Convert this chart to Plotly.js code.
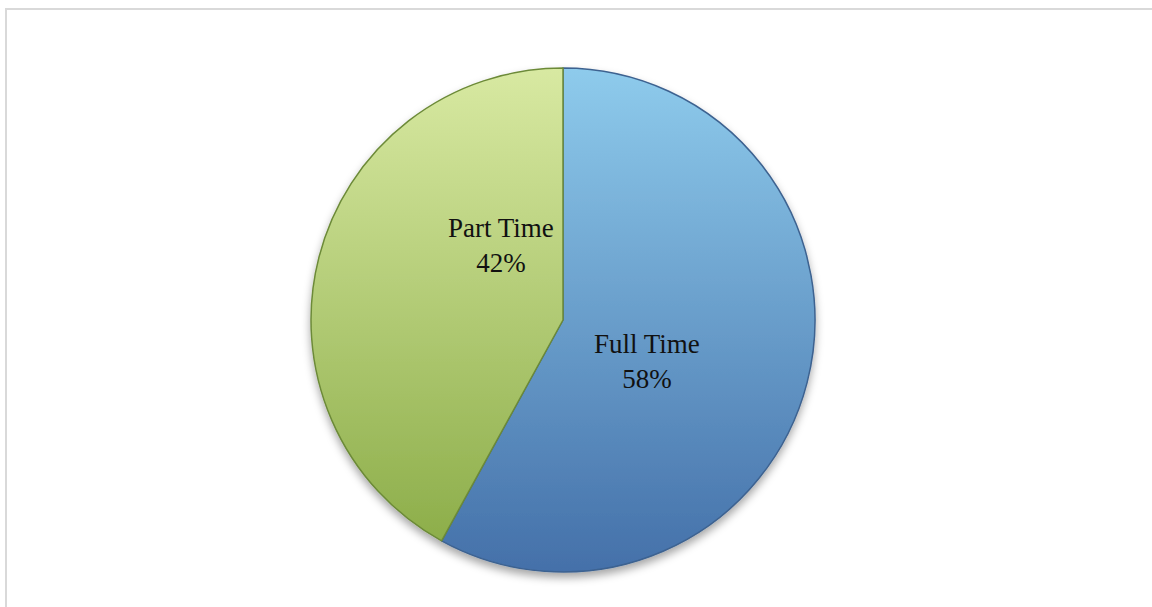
<!DOCTYPE html>
<html>
<head>
<meta charset="utf-8">
<script src="https://cdn.plot.ly/plotly-3.0.1.min.js"></script>
<style>
html,body{margin:0;padding:0;background:#fff;}
#frame{position:absolute;left:5px;top:8px;width:1160px;height:620px;border-top:2px solid #d9d9d9;border-left:2px solid #d9d9d9;}
#chart{position:absolute;left:0;top:0;width:1152px;height:607px;}
</style>
</head>
<body>
<div id="frame"></div>
<div id="chart"></div>
<script>
var categories = ["Full Time", "Part Time"];
var shares = [58, 42];
var gradTop = ["#8ecbec", "#d8e9a2"];
var gradBottom = ["#4470a9", "#8dae4a"];
var edgeColors = ["#3d6290", "#6c8a38"];
// label anchor positions (paper fractions)
var labelX = [647 / 1152, 501 / 1152];
var labelY = [1 - 361 / 607, 1 - 246 / 607];

var trace = {
  type: "pie",
  labels: categories,
  values: shares,
  textinfo: "none",
  sort: false,
  direction: "clockwise",
  rotation: 0,
  marker: {colors: ["#6a9ccb", "#b2cc77"], line: {color: edgeColors, width: 1.5}},
  domain: {x: [(563-252)/1152, (563+252)/1152], y: [(607-572)/607, (607-68)/607]},
  hoverinfo: "none"
};

var annotations = categories.map(function(c, i){
  return {
    xref: "paper", yref: "paper",
    x: labelX[i], y: labelY[i],
    xanchor: "center", yanchor: "middle",
    text: c + "<br>" + shares[i] + "%",
    showarrow: false,
    font: {family: "Liberation Serif, serif", size: 27, color: "#111"}
  };
});

var layout = {
  width: 1152, height: 607,
  margin: {l: 0, r: 0, t: 0, b: 0},
  showlegend: false,
  paper_bgcolor: "rgba(0,0,0,0)",
  plot_bgcolor: "rgba(0,0,0,0)",
  annotations: annotations
};

Plotly.newPlot("chart", [trace], layout, {displayModeBar: false, staticPlot: true}).then(function(gd){
  var svgNS = "http://www.w3.org/2000/svg";
  var svg = gd.querySelector("svg.main-svg");
  var defs = document.createElementNS(svgNS, "defs");
  svg.insertBefore(defs, svg.firstChild);
  for (var i = 0; i < categories.length; i++) {
    var lg = document.createElementNS(svgNS, "linearGradient");
    lg.setAttribute("id", "grad" + i);
    lg.setAttribute("x1", "0"); lg.setAttribute("y1", "0");
    lg.setAttribute("x2", "0"); lg.setAttribute("y2", "1");
    var s1 = document.createElementNS(svgNS, "stop");
    s1.setAttribute("offset", "0"); s1.setAttribute("stop-color", gradTop[i]);
    var s2 = document.createElementNS(svgNS, "stop");
    s2.setAttribute("offset", "1"); s2.setAttribute("stop-color", gradBottom[i]);
    lg.appendChild(s1); lg.appendChild(s2);
    defs.appendChild(lg);
  }
  var f = document.createElementNS(svgNS, "filter");
  f.setAttribute("id", "pieShadow");
  f.setAttribute("x", "-10%"); f.setAttribute("y", "-10%");
  f.setAttribute("width", "120%"); f.setAttribute("height", "125%");
  var ds = document.createElementNS(svgNS, "feDropShadow");
  ds.setAttribute("dx", "0"); ds.setAttribute("dy", "5");
  ds.setAttribute("stdDeviation", "4");
  ds.setAttribute("flood-color", "#000"); ds.setAttribute("flood-opacity", "0.35");
  f.appendChild(ds);
  defs.appendChild(f);
  var paths = gd.querySelectorAll(".slice path.surface");
  paths.forEach(function(p, i){ p.style.fill = "url(#grad" + i + ")"; });
  var tr = gd.querySelector(".pielayer .trace");
  if (tr) tr.setAttribute("filter", "url(#pieShadow)");
});
</script>
</body>
</html>
